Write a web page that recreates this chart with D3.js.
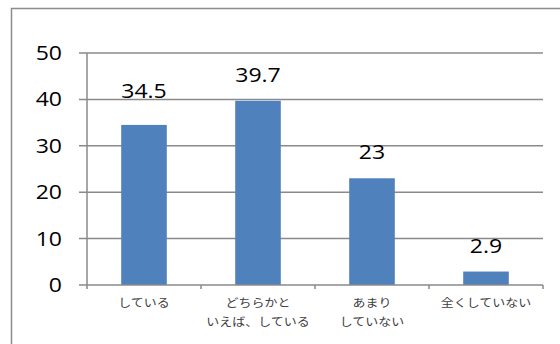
<!DOCTYPE html>
<html><head><meta charset="utf-8">
<script src="https://cdn.jsdelivr.net/npm/d3@7"></script>
<style>body{margin:0;background:#fff}svg{display:block}</style>
</head><body>
<script>
const categories = [["している"], ["どちらかと", "いえば、している"], ["あまり", "していない"], ["全くしていない"]];
const values = [34.5, 39.7, 23, 2.9];
const valueLabels = ["34.5", "39.7", "23", "2.9"];
const yTicks = [0, 10, 20, 30, 40, 50];

(function () {
const W = 560, H = 344;
const NUMFONT = "'Open Sans', Lato, sans-serif";
const SX = 1.18;
const svg = d3.select("body").append("svg").attr("width", W).attr("height", H);
svg.append("rect").attr("x", 11.5).attr("y", 8.5).attr("width", 600).attr("height", 400)
  .attr("fill", "#fff").attr("stroke", "#8c8c8c").attr("stroke-width", 1.5);

const pl = 87, pr = 543, pt = 53, pb = 285;
const x = d3.scaleBand().domain(d3.range(categories.length)).range([pl, pr]).paddingInner(0.6).paddingOuter(0.3);
const xb = d3.scaleBand().domain(d3.range(categories.length)).range([pl, pr]);
const y = d3.scaleLinear().domain([0, 50]).range([pb, pt]);

// gridlines
svg.append("g").selectAll("line").data(yTicks.filter(d => d > 0)).join("line")
  .attr("x1", pl - 8).attr("x2", pr).attr("y1", d => y(d)).attr("y2", d => y(d))
  .attr("stroke", "#8a8a8a").attr("stroke-width", 1.5);

// bars
svg.append("g").selectAll("rect").data(values).join("rect")
  .attr("x", (d, i) => x(i)).attr("width", x.bandwidth())
  .attr("y", d => y(d)).attr("height", d => pb - y(d))
  .attr("fill", "#4f81bd");

// axes
svg.append("line").attr("x1", pl).attr("x2", pl).attr("y1", pt).attr("y2", pb)
  .attr("stroke", "#8a8a8a").attr("stroke-width", 1.5);
svg.append("line").attr("x1", pl - 8).attr("x2", pr).attr("y1", pb).attr("y2", pb)
  .attr("stroke", "#8a8a8a").attr("stroke-width", 1.5);
svg.append("g").selectAll("line").data(d3.range(categories.length + 1)).join("line")
  .attr("x1", i => pl + i * xb.bandwidth()).attr("x2", i => pl + i * xb.bandwidth())
  .attr("y1", pb).attr("y2", pb + 4)
  .attr("stroke", "#8a8a8a").attr("stroke-width", 1.5);

// y tick labels
svg.append("g").selectAll("text").data(yTicks).join("text")
  .attr("transform", d => `translate(62,${y(d) + 7}) scale(${SX},1)`)
  .attr("text-anchor", "end")
  .attr("font-family", NUMFONT).attr("font-size", 19.5)
  .attr("fill", "#000").text(d => d);

// value labels (first label was nudged up in the original)
svg.append("g").selectAll("text").data(values).join("text")
  .attr("transform", (d, i) => `translate(${x(i) + x.bandwidth() / 2},${y(d) - 19 - (i === 0 ? 8 : 0)}) scale(${SX},1)`)
  .attr("text-anchor", "middle")
  .attr("font-family", NUMFONT).attr("font-size", 19.5)
  .attr("fill", "#000").text((d, i) => valueLabels[i]);

// category labels
const cg = svg.append("g").selectAll("text").data(categories).join("text")
  .attr("transform", (d, i) => `translate(${xb(i) + xb.bandwidth() / 2},307) scale(1.18,1)`)
  .attr("text-anchor", "middle")
  .attr("font-family", "'Noto Sans CJK JP', sans-serif").attr("font-size", 11)
  .attr("fill", "#404040");
cg.each(function (d) {
  const t = d3.select(this);
  d.forEach((line, j) => {
    t.append("tspan").attr("x", 0).attr("y", j * 19).text(line);
  });
});
})();
</script>
</body></html>
